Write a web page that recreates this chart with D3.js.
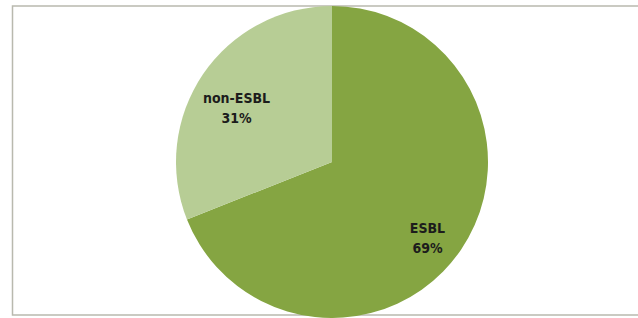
<!DOCTYPE html>
<html>
<head>
<meta charset="utf-8">
<script src="https://cdn.jsdelivr.net/npm/d3@7"></script>
<style>
  html,body{margin:0;padding:0;background:#fff;}
  svg{display:block;}
  .lbl{font-family:"DejaVu Sans Condensed","Liberation Sans",sans-serif;font-weight:bold;font-size:14px;fill:#1c1c1c;}
</style>
</head>
<body>
<svg id="chart" width="638" height="318"></svg>
<script>
const categories = ['ESBL', 'non-ESBL'];
const values = [69, 31];
const colors = ['#85a542', '#b7cd95'];

const W = 638, H = 318;
const cx = 332, cy = 162, r = 156;

const svg = d3.select('#chart');

// chart frame (right side runs off the picture)
svg.append('rect').attr('x', 12.5).attr('y', 6).attr('width', W).attr('height', 309)
  .attr('fill', '#fff').attr('stroke', '#b9b9ae').attr('stroke-width', 1.5);

const pie = d3.pie().sort(null).value(d => d.v);
const arcs = pie(categories.map((c, i) => ({ c, v: values[i], col: colors[i] })));
const arc = d3.arc().innerRadius(0).outerRadius(r);
const labelArc = d3.arc().innerRadius(r * 0.74).outerRadius(r * 0.74);

const g = svg.append('g').attr('transform', `translate(${cx},${cy})`);
g.selectAll('path').data(arcs).join('path')
  .attr('d', arc)
  .attr('fill', d => d.data.col);

// labels sit a little below the centroid, like excel does it
const lbl = g.selectAll('text').data(arcs).join('text').attr('class', 'lbl')
  .attr('text-anchor', 'middle')
  .attr('transform', d => {
    const [x, y] = labelArc.centroid(d);
    return `translate(${x},${y + 11})`;
  });
lbl.append('tspan').attr('x', 0).attr('y', -5).text(d => d.data.c);
lbl.append('tspan').attr('x', 0).attr('y', 15).text(d => d.data.v + '%');
</script>
</body>
</html>
